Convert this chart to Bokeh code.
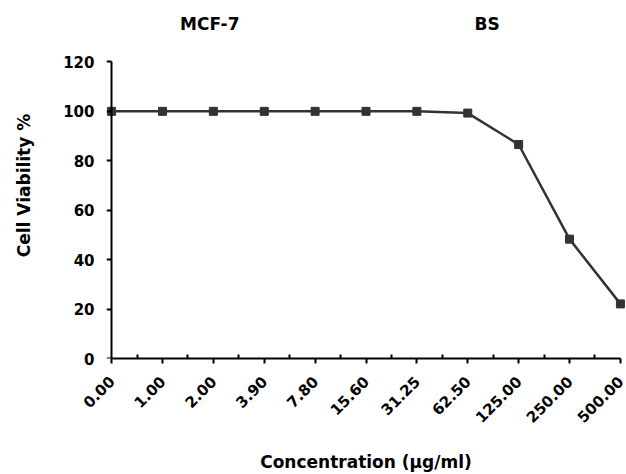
from bokeh.plotting import figure
from bokeh.models import Range1d, FixedTicker, LinearAxis
from bokeh.core.properties import value
from bokeh.embed import file_html
from bokeh.resources import INLINE

conc_labels = ["0.00", "1.00", "2.00", "3.90", "7.80", "15.60", "31.25",
               "62.50", "125.00", "250.00", "500.00"]
viability = [100, 100, 100, 100, 100, 100, 100, 99.3, 86.6, 48.3, 22.1]
y_ticks = [0, 20, 40, 60, 80, 100, 120]
titles = ["MCF-7", "BS"]
title_x = [1.93, 7.38]
title_y = [135.5, 135.5]

FONT = "DejaVu Sans"
xs = list(range(len(conc_labels)))
n = len(conc_labels)

p = figure(width=626, height=474, output_backend="svg", toolbar_location=None,
           x_range=Range1d(-0.1, n - 1 + 0.1),
           y_range=Range1d(0, 140),
           min_border_left=106, min_border_right=1, min_border_top=12,
           min_border_bottom=115)
p.outline_line_color = None
p.xgrid.visible = False
p.ygrid.visible = False

p.line(xs, viability, line_color="#333333", line_width=2.5)
p.scatter(xs, viability, marker="square", size=8, fill_color="#333333",
          line_color="#333333")

p.text(x=title_x, y=title_y, text=titles, text_align="center",
       text_baseline="middle", text_font=value(FONT),
       text_font_style="bold", text_font_size="17px", text_color="black")

# x axis
xa = p.xaxis[0]
xa.ticker = FixedTicker(ticks=xs, minor_ticks=[i + 0.5 for i in xs[:-1]])
xa.major_label_overrides = {i: s for i, s in zip(xs, conc_labels)}
xa.major_label_orientation = 0.785398
xa.bounds = (0, n - 1)
xa.axis_line_width = 2
xa.axis_line_color = "black"
xa.major_tick_line_width = 2
xa.minor_tick_line_width = 2
xa.major_tick_out = 5
xa.major_tick_in = 0
xa.minor_tick_in = 4
xa.minor_tick_out = 0
xa.major_label_standoff = 15
xa.major_label_text_font = FONT
xa.major_label_text_font_style = "bold"
xa.major_label_text_font_size = "15px"
xa.major_label_text_color = "black"
xa.axis_label = "Concentration (µg/ml)"
xa.axis_label_text_font = FONT
xa.axis_label_text_font_style = "bold"
xa.axis_label_text_font_size = "17px"
xa.axis_label_text_color = "black"
xa.axis_label_standoff = 21

# y axis: labels at frame left
ya = p.yaxis[0]
ya.ticker = FixedTicker(ticks=y_ticks)
ya.bounds = (0, 120)
ya.axis_line_color = None
ya.major_tick_line_color = None
ya.minor_tick_line_color = None
ya.major_tick_out = 0
ya.major_tick_in = 0
ya.major_label_standoff = 12
ya.major_label_text_font = FONT
ya.major_label_text_font_style = "bold"
ya.major_label_text_font_size = "15px"
ya.major_label_text_color = "black"
ya.axis_label = "Cell Viability %"
ya.axis_label_text_font = FONT
ya.axis_label_text_font_style = "bold"
ya.axis_label_text_font_size = "17px"
ya.axis_label_text_color = "black"
ya.axis_label_standoff = 26

# y axis line and ticks at x = 0 (no labels)
ya2 = LinearAxis(ticker=FixedTicker(ticks=y_ticks), fixed_location=0,
                 bounds=(0, 120))
ya2.axis_line_width = 2
ya2.axis_line_color = "black"
ya2.major_tick_line_width = 2
ya2.major_tick_out = 5
ya2.major_tick_in = 0
ya2.minor_tick_line_color = None
ya2.major_label_text_font_size = "1px"
ya2.major_label_text_color = None
ya2.major_label_text_alpha = 0
ya2.major_label_standoff = 0
p.add_layout(ya2, "left")

open("out.html", "w").write(file_html(p, INLINE))
